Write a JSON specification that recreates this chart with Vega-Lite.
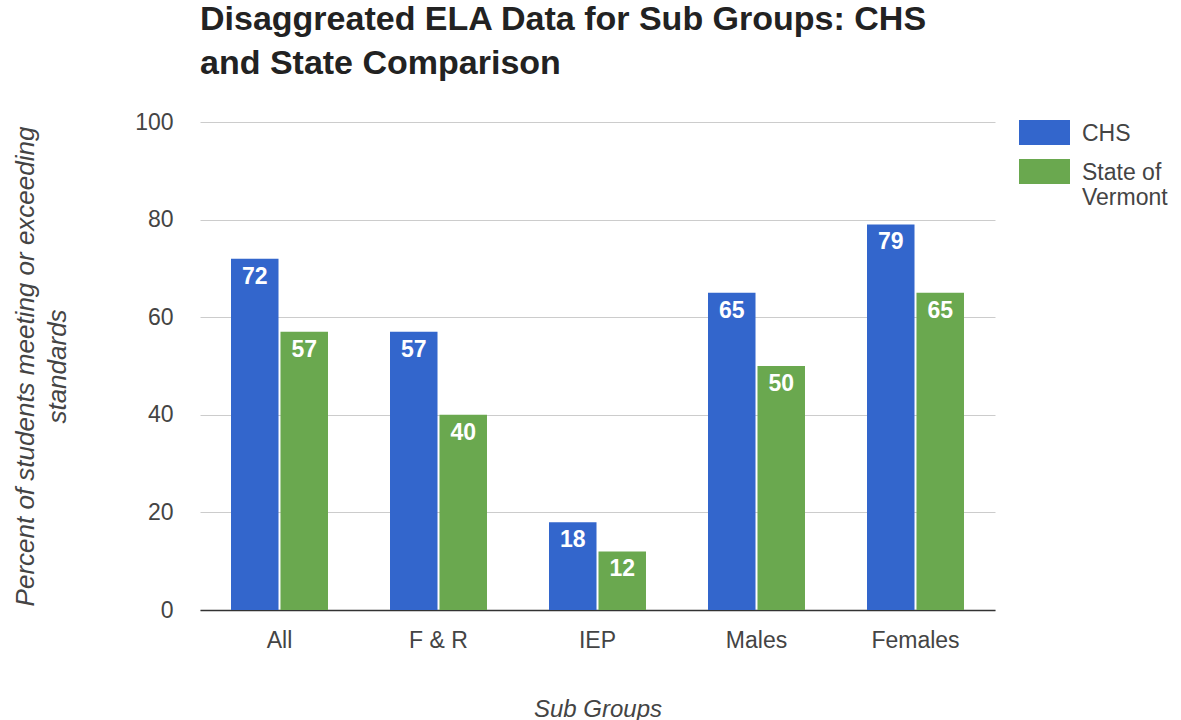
{
  "$schema": "https://vega.github.io/schema/vega-lite/v6.json",
  "width": 795,
  "height": 488,
  "autosize": {"type": "none"},
  "padding": {"left": 200, "top": 122, "right": 186, "bottom": 110},
  "background": "white",
  "title": {
    "text": ["Disaggreated ELA Data for Sub Groups: CHS", "and State Comparison"],
    "anchor": "start",
    "frame": "group",
    "font": "Liberation Sans",
    "fontSize": 34,
    "fontWeight": "bold",
    "color": "#222222",
    "lineHeight": 44,
    "offset": 26
  },
  "data": {
    "values": [
      {"group": "All", "series": "CHS", "value": 72},
      {"group": "All", "series": "State of Vermont", "value": 57},
      {"group": "F & R", "series": "CHS", "value": 57},
      {"group": "F & R", "series": "State of Vermont", "value": 40},
      {"group": "IEP", "series": "CHS", "value": 18},
      {"group": "IEP", "series": "State of Vermont", "value": 12},
      {"group": "Males", "series": "CHS", "value": 65},
      {"group": "Males", "series": "State of Vermont", "value": 50},
      {"group": "Females", "series": "CHS", "value": 79},
      {"group": "Females", "series": "State of Vermont", "value": 65}
    ]
  },
  "encoding": {
    "x": {
      "field": "group",
      "type": "nominal",
      "sort": ["All", "F & R", "IEP", "Males", "Females"],
      "scale": {"paddingInner": 0.39, "paddingOuter": 0.195},
      "axis": {
        "title": "Sub Groups",
        "titleFont": "Liberation Sans",
        "titleFontStyle": "italic",
        "titleFontWeight": "normal",
        "titleFontSize": 24,
        "titleColor": "#444444",
        "titlePadding": 45,
        "labelAngle": 0,
        "labelFont": "Liberation Sans",
        "labelFontSize": 23,
        "labelColor": "#444444",
        "labelPadding": 19,
        "ticks": false,
        "domain": true,
        "domainColor": "#333333",
        "domainWidth": 1.5,
        "grid": false
      }
    },
    "xOffset": {
      "field": "series",
      "type": "nominal",
      "sort": ["CHS", "State of Vermont"],
      "scale": {"paddingInner": 0.04}
    },
    "y": {
      "field": "value",
      "type": "quantitative",
      "scale": {"domain": [0, 100]},
      "axis": {
        "title": ["Percent of students meeting or exceeding", "standards"],
        "titleFont": "Liberation Sans",
        "titleFontStyle": "italic",
        "titleFontWeight": "normal",
        "titleFontSize": 26,
        "titleColor": "#444444",
        "titleLineHeight": 32,
        "titlePadding": 64,
        "values": [0, 20, 40, 60, 80, 100],
        "labelFont": "Liberation Sans",
        "labelFontSize": 23,
        "labelColor": "#444444",
        "labelPadding": 27,
        "ticks": false,
        "domain": false,
        "grid": true,
        "gridColor": "#cccccc",
        "gridWidth": 1
      }
    }
  },
  "layer": [
    {
      "mark": {"type": "bar"},
      "encoding": {
        "color": {
          "field": "series",
          "type": "nominal",
          "scale": {"domain": ["CHS", "State of Vermont"], "range": ["#3366cc", "#6aa84f"]},
          "legend": {
            "title": null,
            "orient": "none",
            "legendX": 819,
            "legendY": -15,
            "symbolType": "M-1,-0.49H1V0.49H-1Z",
            "symbolSize": 2601,
            "symbolStrokeWidth": 0,
            "symbolOpacity": 1,
            "labelFont": "Liberation Sans",
            "labelFontSize": 23,
            "labelColor": "#444444",
            "labelOffset": 12,
            "labelBaseline": "alphabetic",
            "labelExpr": "datum.label == 'State of Vermont' ? ['State of', 'Vermont'] : datum.label",
            "labelLimit": 200,
            "rowPadding": -9,
            "encode": {"labels": {"update": {"dy": {"value": 8}}}}
          }
        }
      }
    },
    {
      "mark": {
        "type": "text",
        "baseline": "top",
        "dy": 7,
        "color": "white",
        "font": "Liberation Sans",
        "fontWeight": "bold",
        "fontSize": 23
      },
      "encoding": {
        "text": {"field": "value", "type": "quantitative"}
      }
    }
  ],
  "config": {"view": {"stroke": null}}
}
